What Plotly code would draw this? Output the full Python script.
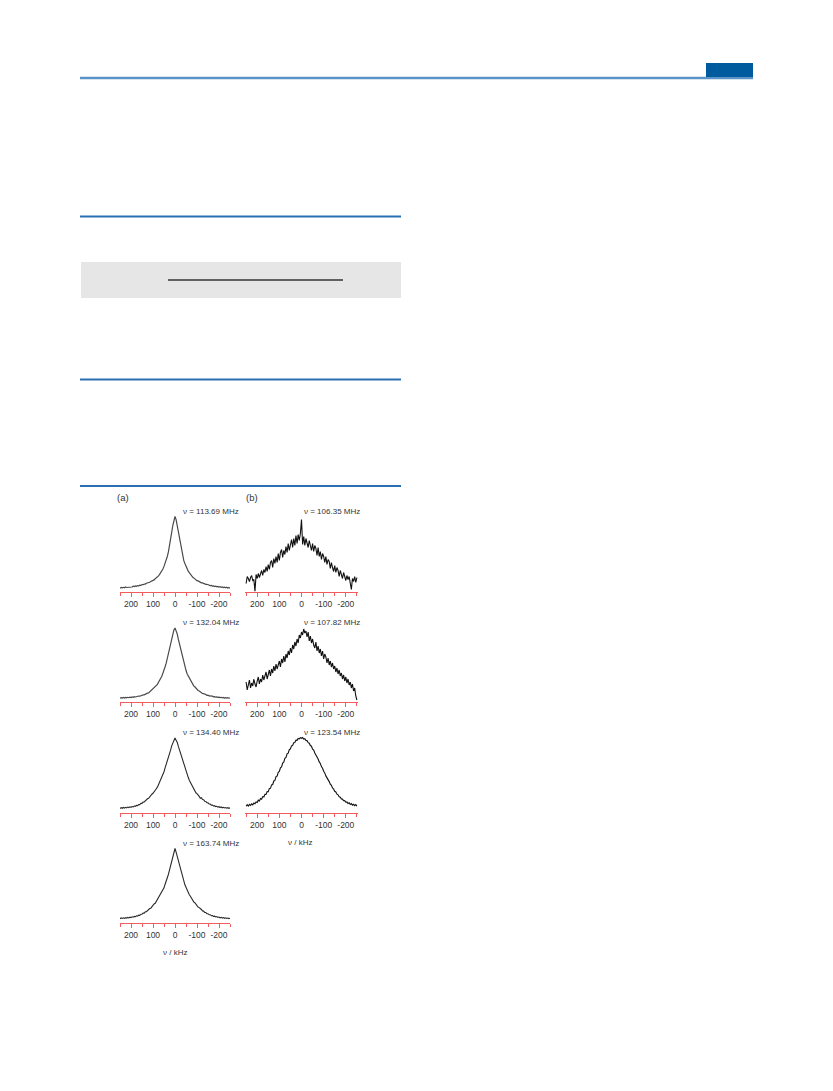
import plotly.graph_objects as go

W, H = 833, 1091
OFF = 8  # default page body margin in the browser

# ---- data (intensity, in arbitrary height units; x in kHz) ----
KHZ = list(range(250, -251, -5))
TICK_VALS = [200, 100, 0, -100, -200]
TICK_TEXT = ["200", "100", "0", "-100", "-200"]
MINOR_VALS = [250, 150, 50, -50, -150, -250]

FREQ_A = ["113.69", "132.04", "134.40", "163.74"]
FREQ_B = ["106.35", "107.82", "123.54"]

A1 = [3.3, 4.0, 3.6, 4.2, 3.7, 4.5, 4.0, 4.1, 4.8, 4.2,
      4.9, 4.5, 5.3, 4.9, 5.6, 5.2, 5.9, 5.6, 6.4, 6.1,
      6.9, 6.8, 7.5, 7.4, 8.2, 8.3, 9.0, 9.2, 10.0, 10.3,
      11.2, 11.6, 12.7, 13.4, 14.6, 15.6, 17.1, 18.6, 20.6, 22.5,
      25.1, 27.9, 31.1, 35.0, 39.6, 45.1, 51.9, 59.1, 66.0, 72.0,
      75.0,
      71.9, 66.1, 58.9, 52.1, 44.9, 39.5, 35.1, 30.9, 28.1, 24.9,
      22.7, 20.4, 18.8, 16.9, 15.8, 14.4, 13.6, 12.4, 11.9, 10.9,
      10.6, 9.7, 9.5, 8.7, 8.6, 7.8, 7.8, 7.1, 7.2, 6.5,
      6.6, 5.9, 6.1, 5.4, 5.7, 5.0, 5.4, 4.7, 5.1, 4.4,
      4.8, 4.1, 4.6, 3.9, 4.4, 3.6, 4.2, 3.5, 4.0, 3.4]

A2 = [3.8, 4.4, 3.9, 4.5, 4.0, 4.6, 4.1, 4.7, 4.3, 4.9,
      4.5, 5.1, 4.7, 5.3, 5.0, 5.6, 5.4, 6.0, 5.8, 6.5,
      6.4, 7.1, 7.1, 7.9, 8.0, 8.9, 9.1, 10.2, 10.6, 11.9,
      12.5, 14.0, 14.8, 16.5, 17.6, 19.7, 21.3, 23.7, 25.8, 28.7,
      31.3, 35.2, 38.8, 43.7, 47.8, 53.2, 57.8, 63.2, 67.8, 72.1,
      74.0,
      71.9, 68.2, 62.8, 58.2, 52.8, 48.2, 43.3, 39.2, 34.8, 31.7,
      28.3, 26.2, 23.3, 21.7, 19.3, 18.0, 16.1, 15.2, 13.6, 12.9,
      11.5, 11.0, 9.8, 9.5, 8.5, 8.4, 7.5, 7.5, 6.7, 6.8,
      6.1, 6.2, 5.6, 5.8, 5.2, 5.4, 4.8, 5.1, 4.6, 4.9,
      4.4, 4.7, 4.2, 4.5, 4.0, 4.4, 3.9, 4.3, 3.8, 4.2]

A3 = [4.0, 4.9, 4.2, 5.0, 4.4, 5.2, 4.6, 5.4, 4.9, 5.7,
      5.2, 6.0, 5.6, 6.5, 6.2, 7.1, 6.9, 8.0, 7.9, 9.1,
      9.1, 10.4, 10.5, 11.9, 12.2, 13.7, 14.2, 15.9, 16.5, 18.3,
      19.2, 20.4, 21.5, 23.8, 25.3, 27.9, 29.8, 32.7, 34.8, 38.2,
      40.8, 44.7, 47.8, 51.7, 54.8, 58.7, 62.3, 66.7, 69.8, 72.6,
      74.5,
      72.3, 70.2, 66.3, 62.7, 58.3, 55.2, 51.3, 48.2, 44.3, 41.2,
      37.8, 35.2, 32.3, 30.2, 27.5, 25.7, 23.2, 21.9, 19.7, 18.9,
      16.8, 16.1, 14.3, 14.8, 12.9, 12.8, 11.3, 11.0, 9.8, 9.7,
      8.5, 8.5, 7.4, 7.5, 6.5, 6.8, 5.9, 6.2, 5.4, 5.8,
      5.0, 5.5, 4.7, 5.2, 4.5, 5.0, 4.3, 4.8, 4.2, 4.7]

A4 = [4.2, 5.0, 4.5, 5.2, 4.6, 5.3, 4.8, 5.6, 5.1, 5.8,
      5.4, 6.2, 5.8, 6.6, 6.3, 7.2, 6.9, 7.9, 7.7, 8.8,
      8.7, 9.9, 9.9, 11.2, 11.3, 12.7, 12.9, 14.4, 14.8, 16.5,
      17.1, 19.0, 19.7, 21.7, 22.7, 25.0, 26.2, 28.8, 30.4, 33.3,
      35.2, 38.8, 41.2, 45.3, 48.7, 53.3, 57.2, 62.3, 66.2, 71.2,
      74.5,
      70.8, 66.8, 61.7, 57.8, 52.7, 49.3, 44.7, 41.8, 38.2, 35.8,
      32.7, 31.0, 28.2, 26.8, 24.4, 23.3, 21.1, 20.3, 18.4, 17.7,
      15.9, 15.4, 13.8, 13.5, 12.1, 11.9, 10.6, 10.5, 9.3, 9.3,
      8.2, 8.3, 7.3, 7.5, 6.6, 6.9, 6.0, 6.4, 5.6, 6.0,
      5.2, 5.7, 4.9, 5.4, 4.7, 5.2, 4.5, 5.0, 4.4, 4.8]

B1 = [8, 15, 13, 10, 14, 16, 11, 12, 0, 17,
      13, 18, 14, 19, 21, 16, 22, 19, 25, 20,
      27, 22, 29, 31, 24, 33, 28, 35, 29, 38,
      31, 39, 42, 34, 41, 37, 45, 39, 48, 41,
      49, 52, 44, 53, 46, 56, 48, 57, 51, 58,
      72,
      47, 55, 46, 53, 49, 44, 51, 45, 41, 48,
      40, 46, 43, 36, 44, 35, 40, 32, 38, 35,
      29, 35, 27, 32, 30, 23, 29, 24, 20, 26,
      19, 24, 21, 15, 21, 17, 13, 19, 14, 11,
      16, 12, 15, 9, 2, 13, 10, 15, 9, 14]

B2 = [20, 12, 17, 22, 14, 19, 16, 23, 18, 15,
      21, 25, 18, 23, 20, 27, 22, 26, 30, 23,
      28, 32, 26, 33, 29, 36, 31, 38, 33, 37,
      41, 35, 43, 39, 46, 40, 48, 44, 51, 47,
      54, 49, 57, 53, 60, 56, 63, 59, 67, 64,
      70,
      67, 73, 69, 71, 65, 70, 61, 66, 59, 63,
      57, 54, 60, 51, 56, 49, 53, 46, 51, 43,
      48, 45, 39, 44, 37, 41, 35, 39, 33, 36,
      30, 34, 28, 32, 26, 29, 23, 27, 21, 25,
      19, 23, 17, 20, 14, 18, 11, 14, 6, 2]

B3 = [6.2, 7.9, 6.5, 8.1, 7.0, 8.6, 7.6, 9.5, 8.7, 10.6,
      10.0, 12.3, 11.5, 13.9, 13.2, 15.9, 15.5, 18.2, 18.0, 21.0,
      20.8, 24.1, 24.2, 27.6, 28.0, 31.5, 32.1, 35.9, 36.4, 40.1,
      41.0, 44.7, 45.6, 49.5, 50.3, 54.1, 55.0, 58.6, 59.4, 62.8,
      63.5, 66.6, 67.1, 69.8, 70.0, 72.4, 72.2, 74.0, 73.6, 74.8,
      74.2,
      74.9, 73.5, 73.8, 72.0, 71.9, 69.8, 69.3, 66.9, 66.3, 63.4,
      62.4, 59.6, 58.0, 55.3, 53.5, 50.6, 49.0, 45.9, 44.3, 41.2,
      39.6, 36.6, 35.0, 32.3, 30.9, 28.3, 27.1, 24.6, 23.5, 21.2,
      20.5, 18.3, 17.7, 15.8, 15.3, 13.6, 13.4, 11.8, 11.9, 10.3,
      10.6, 9.0, 9.7, 8.0, 8.9, 7.4, 8.3, 6.8, 7.9, 6.4]

# ---- layout helpers ----
FONT = "Liberation Sans, Arial, sans-serif"
RED = "#f25c5c"
TXT = "#333333"


def px(x):
    return (x - OFF) / W


def py(y):
    return 1 - (y - OFF) / H


COLS = {"a": (120, 230, 250, 180.5), "b": (245, 358, 255, 302)}
ROWS = [591.5, 702, 812.5, 923]
PANEL_H = 80

panels = [
    ("a", 0, A1, FREQ_A[0], "#4a4a4a", 1.2),
    ("a", 1, A2, FREQ_A[1], "#4a4a4a", 1.2),
    ("a", 2, A3, FREQ_A[2], "#2a2a2a", 1.1),
    ("a", 3, A4, FREQ_A[3], "#2a2a2a", 1.1),
    ("b", 0, B1, FREQ_B[0], "#111111", 1.1),
    ("b", 1, B2, FREQ_B[1], "#111111", 1.1),
    ("b", 2, B3, FREQ_B[2], "#111111", 1.1),
]

fig = go.Figure()
layout_axes = {}
annotations = []

for i, (col, row, vals, freq, color, lw) in enumerate(panels, start=1):
    x0, x1, lim, lx = COLS[col]
    yb = ROWS[row]
    sfx = "" if i == 1 else str(i)
    fig.add_trace(go.Scatter(
        x=KHZ, y=vals, mode="lines",
        line=dict(color=color, width=lw),
        xaxis="x" + sfx, yaxis="y" + sfx,
        showlegend=False, hoverinfo="skip",
    ))
    layout_axes["xaxis" + sfx] = dict(
        domain=[px(x0), px(x1)], range=[lim, -lim], anchor="y" + sfx,
        showline=True, linecolor=RED, linewidth=1,
        ticks="outside", tickcolor=RED, ticklen=4, tickwidth=1,
        tickmode="array", tickvals=TICK_VALS, ticktext=TICK_TEXT,
        minor=dict(tickmode="array", tickvals=MINOR_VALS, ticks="outside",
                   ticklen=3, tickcolor=RED, tickwidth=1),
        showgrid=False, zeroline=False,
        tickfont=dict(family=FONT, size=8.5, color=TXT),
        fixedrange=True,
    )
    layout_axes["yaxis" + sfx] = dict(
        domain=[py(yb), py(yb - PANEL_H)], range=[0, PANEL_H],
        anchor="x" + sfx, visible=False, fixedrange=True,
    )
    annotations.append(dict(
        xref="paper", yref="paper", x=px(lx), y=py(yb - PANEL_H),
        text=f"\u03bd = {freq} MHz", showarrow=False,
        xanchor="left", yanchor="middle",
        font=dict(family=FONT, size=8, color=TXT),
    ))

# axis titles and panel letters
for text, cx, cy, size in [
    ("\u03bd / kHz", 175, 952, 8),
    ("\u03bd / kHz", 300, 842, 8),
    ("(a)", 123, 498, 9.5),
    ("(b)", 252, 498, 9.5),
]:
    annotations.append(dict(
        xref="paper", yref="paper", x=px(cx), y=py(cy), text=text,
        showarrow=False, xanchor="center", yanchor="middle",
        font=dict(family=FONT, size=size, color=TXT),
    ))

# page decorations
shapes = [
    dict(type="line", xref="paper", yref="paper", x0=px(80), x1=px(753),
         y0=py(78), y1=py(78), line=dict(color="#5a93c8", width=2.5)),
    dict(type="rect", xref="paper", yref="paper", x0=px(706), x1=px(753),
         y0=py(77), y1=py(63), fillcolor="#005b9e", line=dict(width=0)),
    dict(type="rect", xref="paper", yref="paper", x0=px(81), x1=px(401),
         y0=py(298), y1=py(262), fillcolor="#e6e6e6", line=dict(width=0),
         layer="below"),
    dict(type="line", xref="paper", yref="paper", x0=px(168), x1=px(343),
         y0=py(280), y1=py(280), line=dict(color="#333333", width=1.5)),
]
for yl in [216.5, 379.5, 486]:
    shapes.append(dict(type="line", xref="paper", yref="paper",
                       x0=px(80), x1=px(401), y0=py(yl), y1=py(yl),
                       line=dict(color="#2a6fb2", width=2)))

fig.update_layout(
    width=W, height=H,
    margin=dict(l=0, r=0, t=0, b=0),
    paper_bgcolor="white", plot_bgcolor="white",
    annotations=annotations, shapes=shapes,
    **layout_axes,
)

fig.write_html("out.html")
